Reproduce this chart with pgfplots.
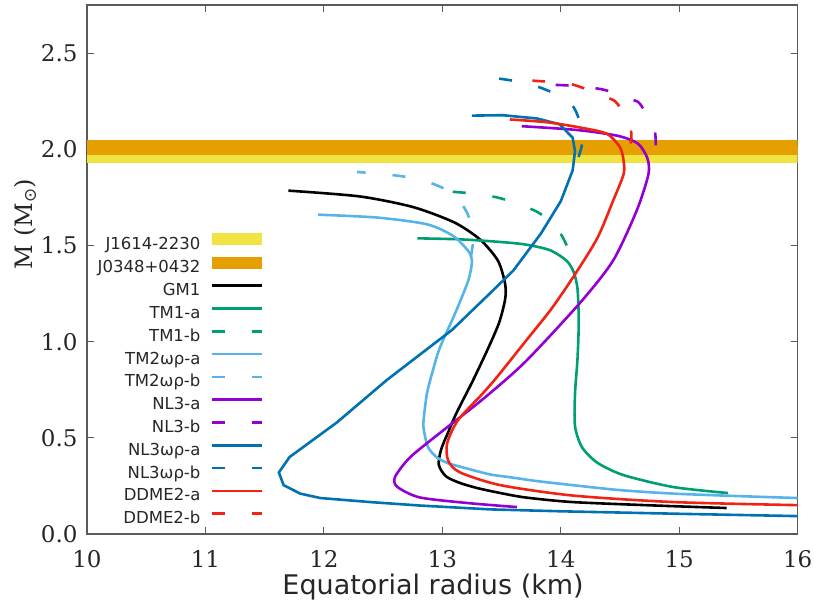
\documentclass[border=0pt]{standalone}
\usepackage{fontspec}
\setmainfont{DejaVu Serif}
\newfontfamily\sansfam{DejaVu Sans}
\usepackage{pgfplots}
\pgfplotsset{compat=1.18}

\definecolor{cyel}{HTML}{F0E442}
\definecolor{cora}{HTML}{E69F00}
\definecolor{ctmone}{HTML}{009E73}
\definecolor{ctmtwo}{HTML}{56B4E9}
\definecolor{cnl}{HTML}{9400D3}
\definecolor{cnlwr}{HTML}{0072B2}
\definecolor{cdd}{HTML}{F02414}
\definecolor{cframe}{HTML}{5A5A5A}

\pgfplotsset{
  eos/.style={line width=2.6bp, smooth, tension=0.45},
  eosb/.style={line width=2.6bp, smooth, tension=0.45, dash pattern=on 13bp off 27bp},
  lineimg/.style={legend image code/.code={\draw[##1] (0bp,5.8bp) -- (50bp,5.8bp);}},
  bandimg/.style={legend image code/.code={\fill[##1] (0bp,0bp) rectangle (50bp,12bp);}},
}

\begin{document}
\begin{tikzpicture}
\begin{axis}[
  scale only axis, width=710.7bp, height=529bp,
  xmin=10, xmax=16, ymin=0, ymax=2.75,
  xtick={10,11,12,13,14,15,16},
  ytick={0,0.5,1,1.5,2,2.5},
  yticklabel style={/pgf/number format/fixed, /pgf/number format/fixed zerofill, /pgf/number format/precision=1, xshift=-6bp},
  /pgf/number format/assume math mode=true,
  tick label style={font=\fontsize{23bp}{27bp}\selectfont, text=black!85},
  xticklabel style={yshift=-13bp},
  axis line style={draw=cframe, line width=1.1bp},
  every tick/.style={draw=cframe, line width=1.1bp},
  tick align=inside, major tick length=7bp,
  xlabel={\sansfam Equatorial radius (km)},
  xlabel style={font=\fontsize{27bp}{32bp}\selectfont, at={(axis description cs:0.487,0)}, anchor=base, yshift=-60bp, text=black!85},
  ylabel={M (M\textsubscript{\sansfam ⊙})},
  ylabel style={font=\fontsize{24bp}{29bp}\selectfont, at={(axis description cs:-0.0872,0.586)}, anchor=center, text=black!85},
  legend cell align=right,
  legend plot pos=right,
  legend style={draw=none, fill=none, inner sep=0pt, outer sep=0pt,
    at={(axis cs:11.486,1.563)}, anchor=north east,
    font=\sansfam\fontsize{16.5bp}{20bp}\selectfont, text=black!85,
    row sep=0pt, column sep=10bp,
    nodes={inner xsep=0pt, inner ysep=3.65bp, text height=12bp, text depth=3.5bp}},
]

% pulsar mass measurements
\addplot[draw=none, fill=cyel, bandimg] coordinates {(10,1.93) (16,1.93) (16,2.01) (10,2.01)} -- cycle;
\addlegendentry{J1614-2230}
\addplot[draw=none, fill=cora, bandimg] coordinates {(10,1.97) (16,1.97) (16,2.05) (10,2.05)} -- cycle;
\addlegendentry{J0348+0432}

% GM1
\addplot[eos, black, lineimg] coordinates {
(15.40,0.135) (14.80,0.148) (14.10,0.166) (13.70,0.19) (13.49,0.213)
(13.30,0.238) (13.15,0.265) (13.03,0.30) (12.97,0.36) (12.99,0.44)
(13.05,0.53) (13.12,0.63) (13.26,0.80) (13.39,0.97) (13.48,1.10)
(13.53,1.22) (13.53,1.30) (13.47,1.42) (13.32,1.53) (13.10,1.62)
(12.75,1.70) (12.30,1.755) (11.70,1.785)};
\addlegendentry{GM1}

% TM1
\addplot[eos, ctmone, lineimg] coordinates {
(15.41,0.213) (14.95,0.244) (14.53,0.306) (14.31,0.37) (14.18,0.45)
(14.12,0.56) (14.12,0.73) (14.14,0.90) (14.15,1.05) (14.15,1.16)
(14.14,1.28) (14.11,1.36) (14.05,1.42) (13.91,1.475) (13.70,1.505)
(13.45,1.52) (13.14,1.532) (12.79,1.537)};
\addlegendentry{TM1-a}
\addplot[eosb, ctmone, lineimg] coordinates {
(14.05,1.50) (14.00,1.56) (13.92,1.62) (13.80,1.675) (13.62,1.72)
(13.46,1.75) (13.25,1.77) (13.07,1.78)};
\addlegendentry{TM1-b}

% TM2omega-rho
\addplot[eos, ctmtwo, lineimg] coordinates {
(16.0,0.187) (15.50,0.197) (14.95,0.21) (14.50,0.228) (14.10,0.254)
(13.80,0.275) (13.55,0.297) (13.40,0.31) (13.15,0.35) (13.04,0.37)
(12.95,0.40) (12.88,0.45) (12.85,0.52) (12.84,0.58) (12.87,0.73)
(12.92,0.85) (12.98,0.97) (13.11,1.15) (13.22,1.32) (13.25,1.42)
(13.22,1.47) (13.09,1.55) (12.87,1.61) (12.45,1.645) (11.95,1.66)};
\addlegendentry{TM2ωρ-a}
\addplot[eosb, ctmtwo, lineimg] coordinates {
(13.24,1.44) (13.26,1.52) (13.25,1.60) (13.20,1.68) (13.12,1.75)
(13.00,1.80) (12.80,1.845) (12.55,1.868) (12.28,1.882)};
\addlegendentry{TM2ωρ-b}

% NL3
\addplot[eos, cnl, lineimg] coordinates {
(13.63,0.14) (13.23,0.16) (12.81,0.19) (12.62,0.245) (12.60,0.296)
(12.73,0.40) (13.01,0.54) (13.35,0.705) (13.70,0.895) (14.16,1.20)
(14.44,1.42) (14.64,1.68) (14.74,1.87) (14.73,1.955)
(14.65,2.03) (14.48,2.07) (14.14,2.10) (13.67,2.12)};
\addlegendentry{NL3-a}
\addplot[eosb, cnl, lineimg] coordinates {
(14.80,2.02) (14.79,2.10) (14.67,2.235) (14.59,2.26) (14.36,2.31)
(14.10,2.33) (13.93,2.335)};
\addlegendentry{NL3-b}

% NL3omega-rho
\addplot[line width=2.6bp, cnlwr, lineimg] coordinates {
(16.0,0.093) (15.0,0.105) (14.0,0.118) (13.40,0.128) (12.81,0.148)
(12.39,0.166) (11.97,0.187) (11.80,0.21) (11.66,0.254) (11.62,0.32)
(11.71,0.40) (12.11,0.58) (12.53,0.80) (13.08,1.06) (13.40,1.25)
(13.60,1.37) (13.83,1.56) (14.00,1.73) (14.10,1.89) (14.12,1.99)
(14.10,2.06) (13.99,2.13) (13.80,2.16) (13.51,2.177) (13.25,2.175)};
\addlegendentry{NL3ωρ-a}
\addplot[eosb, cnlwr, lineimg] coordinates {
(14.15,1.96) (14.18,2.03) (14.17,2.12) (14.10,2.225) (13.91,2.30)
(13.70,2.345) (13.47,2.368)};
\addlegendentry{NL3ωρ-b}

% DDME2
\addplot[eos, cdd, lineimg] coordinates {
(16.0,0.15) (14.95,0.166) (14.10,0.20) (13.49,0.254) (13.15,0.32)
(13.05,0.38) (13.04,0.47) (13.13,0.59) (13.34,0.73) (13.46,0.815)
(13.70,1.0) (13.92,1.17) (14.12,1.35) (14.31,1.54) (14.44,1.73)
(14.53,1.87) (14.53,1.94) (14.50,2.01) (14.39,2.08) (14.19,2.11)
(13.89,2.14) (13.57,2.155)};
\addlegendentry{DDME2-a}
\addplot[eosb, cdd, lineimg] coordinates {
(14.59,2.03) (14.59,2.105) (14.48,2.235) (14.39,2.27) (14.08,2.34)
(13.80,2.355) (13.76,2.356)};
\addlegendentry{DDME2-b}

\end{axis}
\pgfresetboundingbox
\path ([shift={(-87bp,-72bp)}]current axis.south west) rectangle ([shift={(16.3bp,5bp)}]current axis.north east);
\end{tikzpicture}
\end{document}
